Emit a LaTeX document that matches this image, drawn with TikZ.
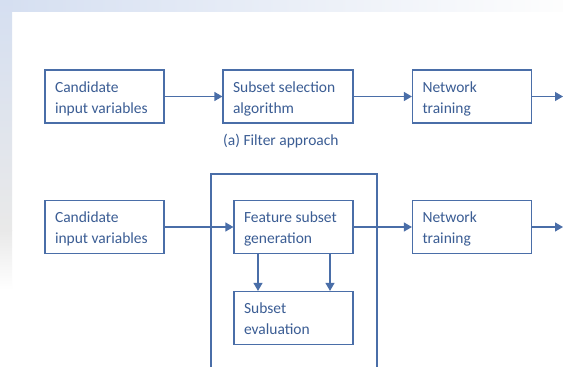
\documentclass[tikz,border=0pt]{standalone}
\usepackage{fontspec}
\setmainfont{Carlito}
\usetikzlibrary{arrows.meta}
\definecolor{inkblue}{HTML}{3B5D94}
\definecolor{lineblue}{HTML}{4A6EA8}
\definecolor{washblue}{HTML}{D5DFF1}
\definecolor{washgrey}{HTML}{E9E9E9}
\hbadness=10000
\hfuzz=30pt
\tikzset{
  box/.style={draw=lineblue, line width=1.2pt, rectangle, minimum width=119pt,
    minimum height=53pt, inner xsep=10pt, inner ysep=0pt, text width=99pt,
    align=flush left, text=inkblue, font=\fontsize{15.5pt}{21pt}\selectfont,
    text height=12pt, text depth=21pt},
  widebox/.style={box, minimum width=130pt, text width=110pt},
  flow/.style={draw=lineblue, line width=1.2pt,
    -{Triangle[length=8pt,width=9pt]}},
  frame/.style={draw=lineblue, line width=1.2pt},
  caption/.style={text=inkblue, font=\fontsize{15.5pt}{21pt}\selectfont, inner sep=0pt}
}
\begin{document}
\begin{tikzpicture}[x=1pt, y=-1pt]
  \useasboundingbox (0,0) rectangle (563,367);
  \fill[white] (0,0) rectangle (563,367);
  % faded wash along the top and left margins
  \shade[left color=washblue, right color=white!92!washgrey] (0,0) rectangle (563,11);
  \shade[top color=washblue, bottom color=washgrey] (0,0) rectangle (12,230);
  \shade[top color=washgrey, bottom color=white] (0,230) rectangle (12,290);

  % (a) filter approach
  \node[box] (cand1) at (104.5,96.5) {Candidate\\input variables};
  \node[widebox] (ssa) at (288,96.5) {\mbox{Subset selection}\\algorithm};
  \node[box] (net1)  at (472,96.5)   {Network\\training};
  \coordinate (out1) at (563,96.5);
  \draw[flow] (cand1) -- (ssa);
  \draw[flow] (ssa) -- (net1);
  \draw[flow] (net1) -- (out1);
  \node[caption, anchor=base west] (capa) at (223,145) {(a) Filter approach};

  % (b) wrapper approach
  \draw[frame] (211,368) -- (211,174) -- (377,174) -- (377,368);
  \node[box] (cand2) at (104.5,227) {Candidate\\input variables};
  \node[box] (fsg)   at (293.5,227) {\mbox{Feature subset}\\generation};
  \node[box] (seval) at (293.5,318) {Subset\\evaluation};
  \node[box] (net2)  at (472,227)   {Network\\training};
  \coordinate (out2) at (563,227);
  \draw[flow] (cand2) -- (fsg);
  \draw[flow] (fsg) -- (net2);
  \draw[flow] (net2) -- (out2);
  \draw[flow] (fsg.south -| 258,0) -- (seval.north -| 258,0);
  \draw[flow] (fsg.south -| 330,0) -- (seval.north -| 330,0);
\end{tikzpicture}
\end{document}
